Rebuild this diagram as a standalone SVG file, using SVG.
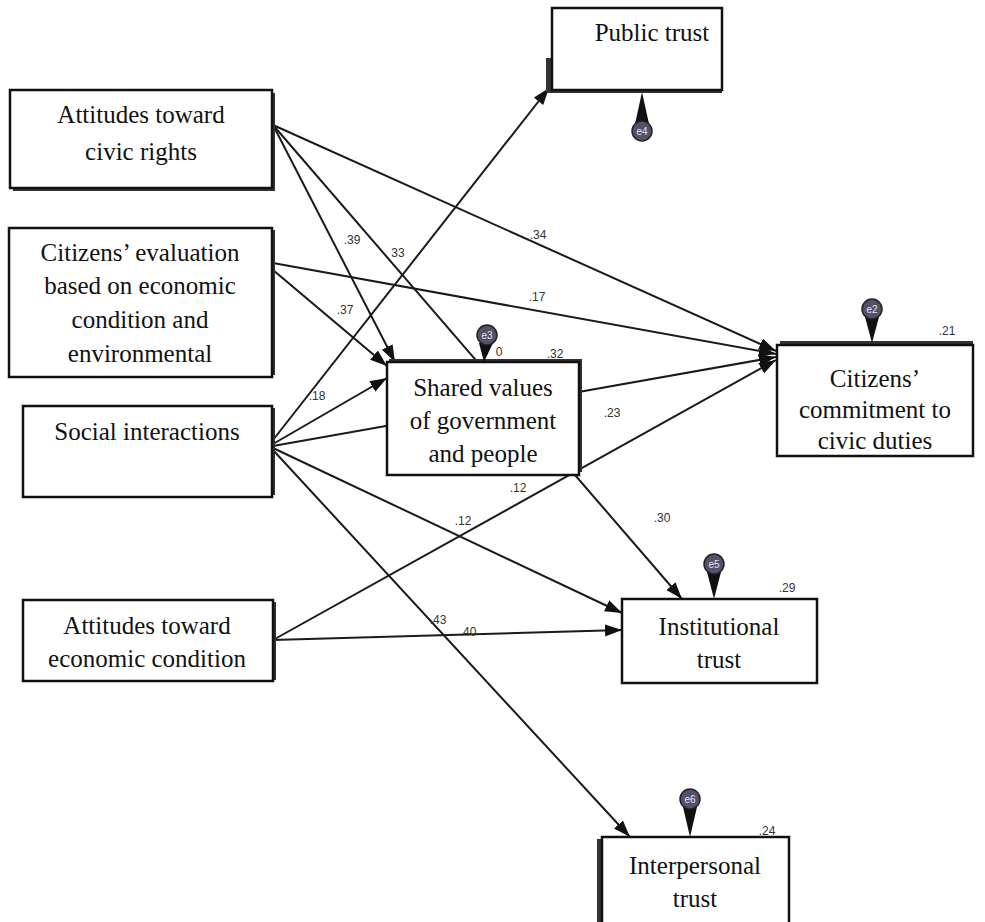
<svg xmlns="http://www.w3.org/2000/svg" width="985" height="922" viewBox="0 0 985 922">
<style>
.box{fill:#fff;stroke:#111;stroke-width:2.5}
.sh{fill:#333}
.t{font-family:"Liberation Serif","Times New Roman",serif;font-size:25px;fill:#111;text-anchor:middle}
.c{stroke:#1a1a1a;stroke-width:2;fill:none}
.n{font-family:"Liberation Sans",Arial,sans-serif;font-size:12px;fill:#333;text-anchor:middle}
.pc{fill:#56506a;stroke:#222;stroke-width:1.5}
.pt{font-family:"Liberation Sans",Arial,sans-serif;font-size:10px;fill:#e4e4ea;text-anchor:middle}
.ps{fill:#111}
</style>
<defs>
<marker id="ah" markerUnits="userSpaceOnUse" markerWidth="18" markerHeight="14" refX="17" refY="6" orient="auto">
<path d="M0,0 L17,6 L0,12 z" fill="#111"/>
</marker>
</defs>
<rect width="985" height="922" fill="#fff"/>
<g id="connectors">
<line class="c" x1="273" y1="125" x2="395" y2="362" marker-end="url(#ah)"/>
<line class="c" x1="273" y1="125" x2="682" y2="599" marker-end="url(#ah)"/>
<line class="c" x1="273" y1="125" x2="776" y2="351" marker-end="url(#ah)"/>
<line class="c" x1="273" y1="263" x2="776" y2="354" marker-end="url(#ah)"/>
<line class="c" x1="273" y1="270" x2="387" y2="366" marker-end="url(#ah)"/>
<line class="c" x1="273" y1="440" x2="549" y2="88" marker-end="url(#ah)"/>
<line class="c" x1="273" y1="444" x2="387" y2="378" marker-end="url(#ah)"/>
<line class="c" x1="273" y1="446" x2="776" y2="357" marker-end="url(#ah)"/>
<line class="c" x1="273" y1="448" x2="622" y2="613" marker-end="url(#ah)"/>
<line class="c" x1="273" y1="450" x2="630" y2="837" marker-end="url(#ah)"/>
<line class="c" x1="273" y1="640" x2="776" y2="360" marker-end="url(#ah)"/>
<line class="c" x1="273" y1="640" x2="622" y2="630" marker-end="url(#ah)"/>
</g>
<g id="public-trust">
<rect class="sh" x="546" y="58" width="176" height="35"/>
<rect class="box" x="552" y="8" width="170" height="82"/>
<text class="t" x="652" y="41">Public trust</text>
</g>
<g id="civic-rights">
<rect class="sh" x="13" y="93" width="262" height="98"/>
<rect class="box" x="10" y="90" width="262" height="98"/>
<text class="t" x="141" y="123">Attitudes toward</text>
<text class="t" x="141" y="160">civic rights</text>
</g>
<g id="citizens-evaluation">
<rect class="sh" x="12" y="230" width="263" height="145"/>
<rect class="box" x="9" y="228" width="263" height="149"/>
<text class="t" x="140" y="261">Citizens’ evaluation</text>
<text class="t" x="140" y="294">based on economic</text>
<text class="t" x="140" y="328">condition and</text>
<text class="t" x="140" y="362">environmental</text>
</g>
<g id="social-interactions">
<rect class="sh" x="26" y="408" width="249" height="87"/>
<rect class="box" x="23" y="406" width="249" height="91"/>
<text class="t" x="147" y="440">Social interactions</text>
</g>
<g id="economic-condition">
<rect class="sh" x="26" y="602" width="250" height="78"/>
<rect class="box" x="23" y="600" width="250" height="81"/>
<text class="t" x="147" y="634">Attitudes toward</text>
<text class="t" x="147" y="667">economic condition</text>
</g>
<g id="shared-values">
<rect class="sh" x="389" y="359" width="193" height="113"/>
<rect class="box" x="387" y="362" width="192" height="113"/>
<text class="t" x="483" y="396">Shared values</text>
<text class="t" x="483" y="429">of government</text>
<text class="t" x="483" y="462">and people</text>
<path class="ps" d="M479,343 L493,343 L484,362 z"/>
<circle class="pc" cx="487" cy="335" r="10"/>
<text class="pt" x="487" y="339">e3</text>
</g>
<g id="civic-duties">
<rect class="sh" x="780" y="341" width="193" height="10"/>
<rect class="box" x="777" y="345" width="196" height="111"/>
<text class="t" x="875" y="387">Citizens’</text>
<text class="t" x="875" y="418">commitment to</text>
<text class="t" x="875" y="449">civic duties</text>
<path class="ps" d="M865,317 L879,317 L872,343 z"/>
<circle class="pc" cx="872" cy="309" r="10"/>
<text class="pt" x="872" y="313">e2</text>
</g>
<g id="institutional-trust">
<rect class="box" x="622" y="599" width="195" height="84"/>
<text class="t" x="719" y="635">Institutional</text>
<text class="t" x="719" y="668">trust</text>
<path class="ps" d="M707,572 L721,572 L714,599 z"/>
<circle class="pc" cx="714" cy="564" r="10"/>
<text class="pt" x="714" y="568">e5</text>
</g>
<g id="interpersonal-trust">
<rect class="sh" x="597" y="839" width="10" height="90"/>
<rect class="box" x="602" y="837" width="187" height="90"/>
<text class="t" x="695" y="874">Interpersonal</text>
<text class="t" x="695" y="907">trust</text>
<path class="ps" d="M683,807 L697,807 L690,837 z"/>
<circle class="pc" cx="690" cy="799" r="10"/>
<text class="pt" x="690" y="803">e6</text>
</g>
<g id="e4">
<path class="ps" d="M635,124 L649,124 L642,92 z"/>
<circle class="pc" cx="642" cy="131" r="10"/>
<text class="pt" x="642" y="135">e4</text>
</g>
<g id="labels">
<text class="n" x="947" y="335">.21</text>
<text class="n" x="555" y="358">.32</text>
<text class="n" x="499" y="356">0</text>
<text class="n" x="352" y="244">.39</text>
<text class="n" x="398" y="257">33</text>
<text class="n" x="538" y="239">.34</text>
<text class="n" x="537" y="301">.17</text>
<text class="n" x="345" y="314">.37</text>
<text class="n" x="317" y="400">.18</text>
<text class="n" x="612" y="417">.23</text>
<text class="n" x="662" y="522">.30</text>
<text class="n" x="518" y="492">.12</text>
<text class="n" x="463" y="525">.12</text>
<text class="n" x="438" y="624">.43</text>
<text class="n" x="468" y="636">.40</text>
<text class="n" x="787" y="592">.29</text>
<text class="n" x="767" y="835">.24</text>
</g>
</svg>
